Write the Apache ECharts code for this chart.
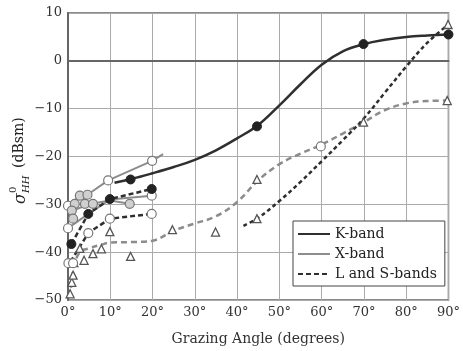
<!DOCTYPE html>
<html>
<head>
<meta charset="utf-8">
<script src="https://cdn.jsdelivr.net/npm/echarts@6/dist/echarts.min.js"></script>
<style>html,body{margin:0;padding:0;background:#fff}#c{width:463px;height:351px}</style>
</head>
<body>
<div id="c"></div>
<script>
// ---- data ----
const xTicks = [0, 10, 20, 30, 40, 50, 60, 70, 80, 90];
const yTicks = [-50, -40, -30, -20, -10, 0, 10];
const legendNames = ['K-band', 'X-band', 'L and S-bands'];

// K-band fitted curve (solid dark)
const kCurve = [[11,-25.5],[15,-24.7],[20,-23.5],[25,-22.2],[30,-20.7],[35,-18.7],[40,-16.2],[45,-13.4],[50,-9.3],[55,-4.9],[60,-0.8],[65,2.0],[70,3.5],[75,4.4],[80,5.0],[85,5.3],[90,5.5]];
// K-band low-angle dashed lines
const kDashA = [[0.8,-38.3],[4.8,-32],[9.9,-28.9],[19.8,-26.8]];
const kDashB = [[0.6,-42],[4.8,-36],[9.9,-33],[19.8,-32]];
// X-band solid grey lines
const xTop = [[0,-30.4],[2.8,-28.2],[4.6,-28],[9.5,-25],[19.9,-20.9],[22.5,-19.5]];
const xMid = [[0,-35],[4.8,-32],[9.9,-29],[19.8,-28.2]];
const xLow = [[0.5,-31.5],[5,-30],[9.9,-29.2],[14.6,-29.9]];
// L and S-bands dashed curves
const lsGrey = [[0.3,-49.5],[0.9,-46.3],[1.3,-43.5],[2.8,-40],[5,-39.2],[8,-38.4],[10,-38],[15,-37.9],[20,-37.6],[25,-35.5],[30,-34],[35,-32.5],[40,-29.5],[45,-25],[50,-21.6],[55,-19.4],[60,-17.5],[65,-15.2],[70,-12.8],[75,-10.3],[80,-8.9],[85,-8.4],[90,-8.3]];
const lsDark = [[41.5,-34.5],[45,-32.8],[50,-29.3],[55,-25.3],[60,-21],[65,-16.6],[70,-12],[75,-6.6],[80,-1.2],[85,3.8],[90,7.6]];

// measured points
const filledDots = [[14.8,-24.8],[44.7,-13.7],[69.9,3.5],[90,5.5],[0.8,-38.3],[4.8,-32],[9.9,-28.9],[19.8,-26.8]];
const openDots = [[0,-30.3],[9.5,-25],[19.9,-20.9],[0,-35],[19.8,-28.2],[4.8,-36],[9.9,-33],[19.8,-32],[0.1,-42.3],[1.2,-42.3],[59.8,-17.9]];
const greyDots = [[2.8,-28.2],[4.6,-28],[1.6,-29.9],[4,-29.9],[5.9,-29.9],[0.9,-31.3],[1.2,-33],[14.6,-29.9]];
const triangles = [[0.5,-48.7],[0.9,-46.3],[1.2,-44.8],[1.4,-42.2],[2.8,-39.2],[3.8,-41.7],[5.9,-40.3],[7.9,-39.3],[9.9,-35.7],[14.8,-40.9],[24.7,-35.3],[34.9,-35.8],[44.7,-24.8],[44.7,-33],[69.9,-12.8],[89.7,-8.3],[89.9,7.6]];

const DARK = '#2f2f2f', GREY = '#8c8c8c';
const FONT = 'DejaVu Serif';

const chart = echarts.init(document.getElementById('c'), null, {renderer: 'canvas'});

function line(data, color, width, type, smooth) {
  return {type: 'line', data: data, symbol: 'none', smooth: smooth || false, silent: true,
    lineStyle: {color: color, width: width, type: type}, z: 2, animation: false};
}
function scatter(data, symbol, size, fill, border, bw) {
  return {type: 'scatter', data: data, symbol: symbol, symbolSize: size, clip: false, silent: true,
    itemStyle: {color: fill, borderColor: border, borderWidth: bw, opacity: 1}, z: 4, animation: false};
}

const series = [
  {name: legendNames[0], type: 'line', data: [], symbol: 'none', lineStyle: {color: DARK, width: 3, type: 'solid'}, itemStyle: {color: DARK}},
  {name: legendNames[1], type: 'line', data: [], symbol: 'none', lineStyle: {color: GREY, width: 3, type: 'solid'}, itemStyle: {color: GREY}},
  {name: legendNames[2], type: 'line', data: [], symbol: 'none', lineStyle: {color: DARK, width: 3, type: [5, 3]}, itemStyle: {color: DARK}},
  line(kCurve, DARK, 2.5, 'solid', 0.4),
  line(xTop, GREY, 2, 'solid', false),
  line(xMid, GREY, 2, 'solid', false),
  line(xLow, GREY, 2, 'solid', false),
  line(kDashA, DARK, 2.5, [5, 3], false),
  line(kDashB, DARK, 2.5, [5, 3], false),
  line(lsGrey, GREY, 2.5, [6, 4], 0.4),
  line(lsDark, DARK, 2.5, [4, 3], 0.4),
  scatter(triangles, 'triangle', 8, '#fff', '#555', 1.3),
  scatter(openDots, 'circle', 9, '#fff', '#777', 1.2),
  scatter(greyDots, 'circle', 9, '#d0d0d0', '#777', 1.2),
  scatter(filledDots, 'circle', 9, '#222', '#222', 1)
];

chart.setOption({
  animation: false,
  backgroundColor: '#fff',
  textStyle: {fontFamily: FONT},
  grid: {left: 68, right: 12, top: 13, bottom: 46, show: true, borderColor: '#666', borderWidth: 1.5, backgroundColor: 'transparent', containLabel: false},
  xAxis: {
    type: 'value', min: 0, max: 90, interval: 10,
    axisLine: {show: true, lineStyle: {color: '#666', width: 2}},
    axisTick: {show: false},
    splitLine: {show: true, lineStyle: {color: '#aaa', width: 1}},
    axisLabel: {color: '#333', fontFamily: FONT, fontSize: 13, margin: 6, formatter: v => xTicks.indexOf(v) >= 0 ? v + '°' : ''},
    name: 'Grazing Angle (degrees)', nameLocation: 'middle', nameGap: 32,
    nameTextStyle: {color: '#333', fontFamily: FONT, fontSize: 14}
  },
  yAxis: {
    type: 'value', min: -50, max: 10, interval: 10,
    axisLine: {show: true, lineStyle: {color: '#666', width: 2}},
    axisTick: {show: false},
    splitLine: {show: true, lineStyle: {color: '#aaa', width: 1}},
    axisLabel: {color: '#333', fontFamily: FONT, fontSize: 13, margin: 6, formatter: v => yTicks.indexOf(v) >= 0 ? String(v).replace('-', '\u2212') : ''}
  },
  legend: {
    data: legendNames, orient: 'vertical', left: 293, top: 221,
    itemWidth: 32, itemHeight: 14, itemGap: 6,
    itemStyle: {opacity: 0, borderWidth: 0},
    padding: [6, 8, 5, 4], borderColor: '#444', borderWidth: 1, backgroundColor: '#fff',
    textStyle: {color: '#222', fontFamily: FONT, fontSize: 14}, selectedMode: false
  },
  graphic: [{
    type: 'group', x: 19, y: 204, rotation: Math.PI / 2, silent: true,
    children: [
      {type: 'text', x: 0, y: 2, style: {text: 'σ', font: 'italic 16px "DejaVu Serif"', fill: '#222', verticalAlign: 'middle', align: 'left'}},
      {type: 'text', x: 11, y: -6, style: {text: '0', font: '10px "DejaVu Serif"', fill: '#222', verticalAlign: 'middle', align: 'left'}},
      {type: 'text', x: 11, y: 7, style: {text: 'HH', font: 'italic 10px "DejaVu Serif"', fill: '#222', verticalAlign: 'middle', align: 'left'}},
      {type: 'text', x: 36, y: 0, style: {text: '(dBsm)', font: '14px "DejaVu Serif"', fill: '#222', verticalAlign: 'middle', align: 'left'}}
    ]
  }],
  series: series
});
</script>
</body>
</html>
